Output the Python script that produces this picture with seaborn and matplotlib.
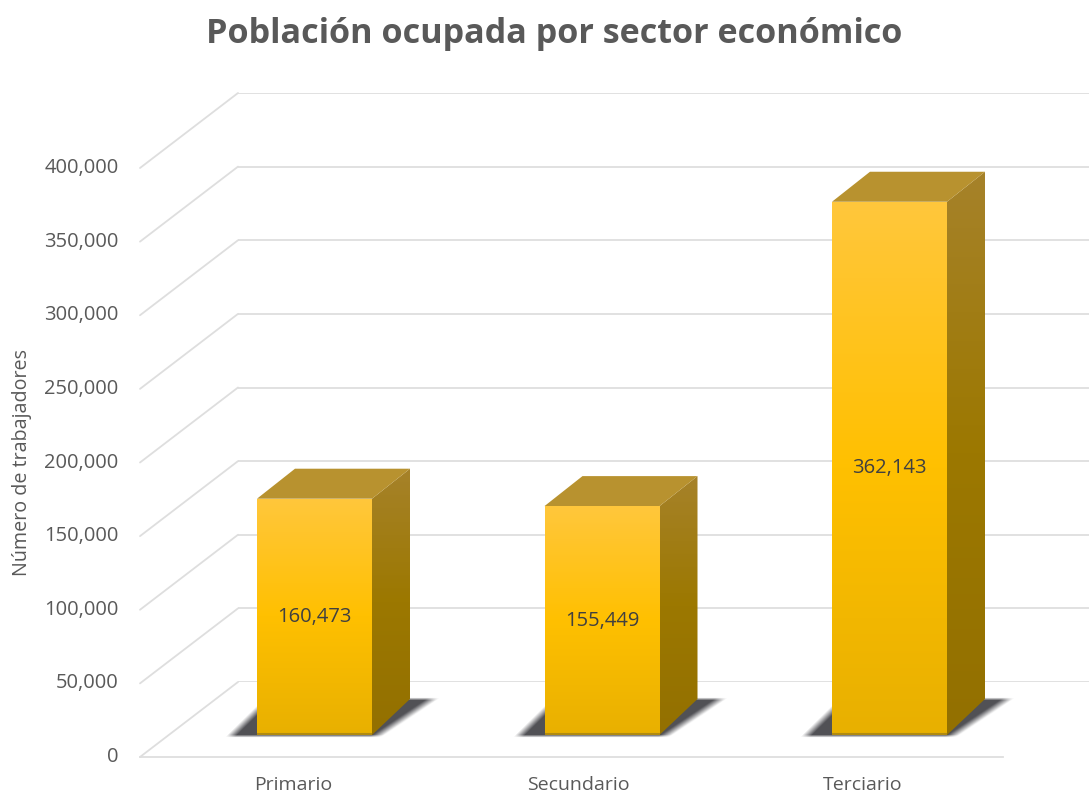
import matplotlib
matplotlib.use("Agg")
import matplotlib.pyplot as plt
import matplotlib.transforms as mtrans
from matplotlib.colors import LinearSegmentedColormap
from matplotlib.patches import ConnectionPatch, Polygon
from matplotlib.ticker import StrMethodFormatter
import numpy as np
import seaborn as sns

# Datos
sectores = ["Primario", "Secundario", "Terciario"]
trabajadores = [160473, 155449, 362143]
marcas_y = [0, 50000, 100000, 150000, 200000, 250000, 300000, 350000, 400000]
titulo = "Población ocupada por sector económico"
etiqueta_y = "Número de trabajadores"

W, H = 1089, 793
GRIS_TEXTO = "#595959"
GRIS_REJILLA = "#DEDEDE"

sns.set_theme(style="white")
plt.rcParams["font.family"] = ["Open Sans", "DejaVu Sans"]

fig = plt.figure(figsize=(W / 100, H / 100), dpi=100, facecolor="white")


def ejes(izq, der, sup, inf, z):
    a = fig.add_axes([izq / W, 1 - inf / H, (der - izq) / W, (inf - sup) / H])
    a.set_zorder(z)
    a.patch.set_alpha(0)
    a.set_ylim(0, 400000)
    for s in a.spines.values():
        s.set_visible(False)
    return a


# Plano trasero: rejilla horizontal
ax_fondo = ejes(238, W, 93, 682, 1)
ax_fondo.set_xlim(0, 1)
ax_fondo.set_yticks(marcas_y)
ax_fondo.tick_params(left=False, bottom=False, labelleft=False, labelbottom=False)
ax_fondo.grid(axis="y", color=GRIS_REJILLA, lw=1.3)
ax_fondo.set_xticks([])

# Plano frontal: ejes, marcas y rótulos
ax_frente = ejes(140, 1003, 168, 757, 2)
ax_frente.set_xlim(-0.537, 2.491)
ax_frente.set_xticks(range(len(sectores)), sectores)
ax_frente.set_yticks(marcas_y)
ax_frente.yaxis.set_major_formatter(StrMethodFormatter("{x:,.0f}"))
ax_frente.tick_params(axis="y", length=0, pad=15.5, labelsize=14.5, labelcolor=GRIS_TEXTO)
ax_frente.tick_params(axis="x", length=0, pad=14, labelsize=14, labelcolor=GRIS_TEXTO)
ax_frente.spines["bottom"].set_visible(True)
ax_frente.spines["bottom"].set_color(GRIS_REJILLA)
ax_frente.spines["bottom"].set_linewidth(1.3)
subida = mtrans.ScaledTranslation(0, 2.5 / 100, fig.dpi_scale_trans)
for rotulo in ax_frente.get_yticklabels():
    rotulo.set_transform(rotulo.get_transform() + subida)
ax_frente.set_ylabel(etiqueta_y, color=GRIS_TEXTO, fontsize=14.2)
ax_frente.yaxis.set_label_coords((32 - 140) / 863, (757 - 462) / 589)

# Diagonales que unen ambos planos
for v in marcas_y:
    fig.add_artist(ConnectionPatch(
        xyA=(0, v), coordsA=ax_frente.get_yaxis_transform(),
        xyB=(0, v), coordsB=ax_fondo.get_yaxis_transform(),
        color=GRIS_REJILLA, lw=1.3, zorder=0.5))

# Plano de las barras
ax_barras = ejes(0, W, 146, 735, 3)
sns.barplot(x=sectores, y=trabajadores, ax=ax_barras, width=0.4,
            color="#FFC000", saturation=1, linewidth=0)
ESC_X = 287.5
ESC_Y = 589 / 400000
ax_barras.set_xticks([])
ax_barras.set_yticks([])
ax_barras.set_xlabel("")
ax_barras.set_ylabel("")

cm_frente = LinearSegmentedColormap.from_list("frente", ["#FFC73C", "#FFC000", "#E8B000"])
cm_lado = LinearSegmentedColormap.from_list("lado", ["#A6822A", "#9C7800", "#937000"])
gradiente = np.linspace(0, 1, 256).reshape(-1, 1)

PROF_X = 38 / ESC_X
PROF_SUP = 30 / ESC_Y
PROF_INF = 36 / ESC_Y


def sombra_suave(x0, x1):
    # Paralelogramo difuminado en los bordes, en píxeles relativos a la barra
    px = np.arange(-35, 140 + (x1 - x0) * ESC_X)
    py = np.arange(-4, 41)
    xx, yy = np.meshgrid(px, py)
    t = yy / 38
    borde_izq = -30 + 38 * t
    borde_der = (x1 - x0) * ESC_X + 13 + 56 * t
    fade = np.clip((xx - borde_izq) / 10, 0, 1) * np.clip((borde_der - xx) / 12, 0, 1)
    fade *= np.clip((yy + 3) / 3, 0, 1) * np.clip((38 - yy) / 3, 0, 1)
    rgba = np.zeros(xx.shape + (4,))
    rgba[..., :3] = np.array([0.24, 0.24, 0.26])
    rgba[..., 3] = 0.9 * fade
    return rgba, (x0 + px[0] / ESC_X, x0 + px[-1] / ESC_X, py[0] / ESC_Y, py[-1] / ESC_Y)


for barra, valor in zip(ax_barras.patches, trabajadores):
    x0 = barra.get_x()
    x1 = x0 + barra.get_width()

    # Sombra sobre el suelo
    rgba, caja = sombra_suave(x0, x1)
    ax_barras.imshow(rgba, aspect="auto", zorder=1, extent=caja, origin="lower",
                     interpolation="bilinear", clip_on=False)

    barra.set_zorder(3)
    # Cara frontal con degradado
    img = ax_barras.imshow(gradiente, cmap=cm_frente, aspect="auto", zorder=3.1,
                           extent=(x0, x1, 0, valor), origin="upper")
    img.set_clip_path(barra)

    # Cara lateral
    lado = Polygon([(x1, 0), (x1 + PROF_X, PROF_INF),
                    (x1 + PROF_X, valor + PROF_SUP), (x1, valor)],
                   closed=True, fc="none", ec="none")
    ax_barras.add_patch(lado)
    img_lado = ax_barras.imshow(gradiente, cmap=cm_lado, aspect="auto", zorder=2.5,
                                extent=(x1, x1 + PROF_X, 0, valor + PROF_SUP), origin="upper")
    img_lado.set_clip_path(lado)

    # Cara superior
    ax_barras.add_patch(Polygon([(x0, valor), (x0 + PROF_X, valor + PROF_SUP),
                                 (x1 + PROF_X, valor + PROF_SUP), (x1, valor)],
                                closed=True, fc="#B8922F", ec="none", zorder=2.6))

    # Canto inferior
    ax_barras.plot([x0, x1], [1 / ESC_Y, 1 / ESC_Y], color="#B08A10", lw=1.5,
                   zorder=3.2, solid_capstyle="butt")

ax_barras.set_xlim(-314.5 / ESC_X, (W - 314.5) / ESC_X)
ax_barras.set_ylim(0, 400000)

# Valores sobre cada barra
for barra, valor in zip(ax_barras.patches, trabajadores):
    ax_barras.text(barra.get_x() + barra.get_width() / 2, valor / 2, f"{valor:,}",
                   ha="center", va="center", fontsize=14.5, color="#404040", zorder=5)

fig.text(554 / W, 1 - 34 / H, titulo, ha="center", va="center",
         fontsize=24.6, fontweight="bold", color=GRIS_TEXTO)

fig.savefig("out.png", dpi=100)
